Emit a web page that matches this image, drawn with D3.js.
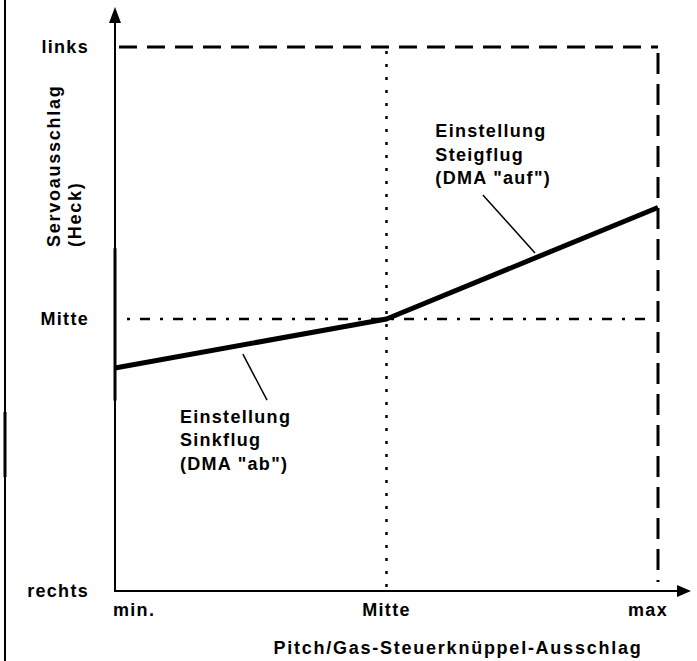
<!DOCTYPE html>
<html>
<head>
<meta charset="utf-8">
<script src="https://cdn.jsdelivr.net/npm/d3@7"></script>
<style>
  html, body { margin: 0; padding: 0; background: #fff; }
  svg { display: block; }
  text { font-family: "Liberation Sans", Arial, sans-serif; font-weight: bold; font-size: 18px; letter-spacing: 1.3px; fill: #000; }
  text.wide { letter-spacing: 1.75px; }
</style>
</head>
<body>
<svg id="chart" width="697" height="661"></svg>
<script>
// ---- data ----
const xCategories = ["min.", "Mitte", "max"];        // x positions 0,1,2
const xValues = [0, 1, 2];
const yCategories = ["rechts", "Mitte", "links"];     // y positions -1,0,1
const yValues = [-1, 0, 1];
const servoValues = [-0.18, 0, 0.41];                 // servo deflection at min, Mitte, max
const xTitle = "Pitch/Gas-Steuerknüppel-Ausschlag";
const yTitleLines = ["Servoausschlag", "(Heck)"];
const annotLabels = [
  ["Einstellung", "Steigflug", "(DMA \"auf\")"],
  ["Einstellung", "Sinkflug", "(DMA \"ab\")"]
];
const annotTextPos = [[1.18, 0.669], [0.239, -0.382]];        // in data units
const annotLeaderFrom = [[1.355, 0.456], [0.471, -0.129]];
const annotLeaderTo = [[1.547, 0.243], [0.560, -0.298]];

// ---- scales ----
const svg = d3.select("#chart");
const x = d3.scaleLinear().domain([0, 2]).range([115, 658]);
const y = d3.scaleLinear().domain([-1, 1]).range([591, 47]);

// left frame line
svg.append("line").attr("x1", 5).attr("x2", 5).attr("y1", 0).attr("y2", 661)
  .attr("stroke", "#000").attr("stroke-width", 2);
svg.append("line").attr("x1", 5).attr("x2", 5).attr("y1", 412).attr("y2", 477)
  .attr("stroke", "#000").attr("stroke-width", 3);

// reference box (links / max)
svg.append("line").attr("x1", x(0) + 2).attr("x2", x(2)).attr("y1", y(1)).attr("y2", y(1))
  .attr("stroke", "#000").attr("stroke-width", 3).attr("stroke-dasharray", "18,10")
  .attr("stroke-dashoffset", -2);
svg.append("line").attr("x1", x(2)).attr("x2", x(2)).attr("y1", y(1)).attr("y2", y(-1) - 9)
  .attr("stroke", "#000").attr("stroke-width", 3).attr("stroke-dasharray", "21,10")
  .attr("stroke-dashoffset", -6);

// Mitte guides
svg.append("line").attr("x1", x(0) + 12).attr("x2", x(2) - 3).attr("y1", y(0)).attr("y2", y(0))
  .attr("stroke", "#000").attr("stroke-width", 2.5).attr("stroke-dasharray", "3,10,10,10");
svg.append("line").attr("x1", x(1)).attr("x2", x(1)).attr("y1", y(1) + 4).attr("y2", y(-1))
  .attr("stroke", "#000").attr("stroke-width", 2.5).attr("stroke-dasharray", "3,10");

// axes
svg.append("line").attr("x1", x(0)).attr("x2", x(0)).attr("y1", y(-1)).attr("y2", 20)
  .attr("stroke", "#000").attr("stroke-width", 2);
svg.append("line").attr("x1", x(0)).attr("x2", x(0)).attr("y1", y(0.26)).attr("y2", y(-0.3))
  .attr("stroke", "#000").attr("stroke-width", 3);
svg.append("path").attr("d", `M${x(0)},7 L${x(0) - 6},23 L${x(0) + 6},23 Z`).attr("fill", "#000");
svg.append("line").attr("x1", x(0) - 1).attr("x2", 680).attr("y1", y(-1)).attr("y2", y(-1))
  .attr("stroke", "#000").attr("stroke-width", 2);
svg.append("path").attr("d", `M691,${y(-1)} L677,${y(-1) - 6} L677,${y(-1) + 6} Z`).attr("fill", "#000");

// data line
const line = d3.line().x((d, i) => x(xValues[i])).y(d => y(d));
svg.append("path").datum(servoValues).attr("d", line)
  .attr("fill", "none").attr("stroke", "#000").attr("stroke-width", 5).attr("stroke-linejoin", "round");

// y tick labels
svg.selectAll(".ylab").data(yCategories).enter().append("text")
  .attr("x", 89).attr("y", (d, i) => y(yValues[i])).attr("dy", "0.35em")
  .attr("text-anchor", "end").text(d => d);

// x tick labels
const xAnchors = ["start", "middle", "end"];
const xDx = [-2, 0, 10];
svg.selectAll(".xlab").data(xCategories).enter().append("text")
  .attr("x", (d, i) => x(xValues[i]) + xDx[i]).attr("y", 616)
  .attr("text-anchor", (d, i) => xAnchors[i]).text(d => d);

// x title
svg.append("text").attr("class", "wide").attr("x", 458).attr("y", 654).attr("text-anchor", "middle").text(xTitle);

// y title
yTitleLines.forEach((t, i) => {
  svg.append("text").attr("class", "wide").attr("transform", `translate(${60 + i * 21},247) rotate(-90)`)
    .attr("text-anchor", "start").text(t);
});

// annotations
annotLabels.forEach((lines, k) => {
  const t = svg.append("text").attr("x", x(annotTextPos[k][0])).attr("y", y(annotTextPos[k][1]));
  lines.forEach((l, j) => {
    t.append("tspan").attr("x", x(annotTextPos[k][0])).attr("dy", j === 0 ? 0 : 23.5).text(l);
  });
  svg.append("line")
    .attr("x1", x(annotLeaderFrom[k][0])).attr("y1", y(annotLeaderFrom[k][1]))
    .attr("x2", x(annotLeaderTo[k][0])).attr("y2", y(annotLeaderTo[k][1]))
    .attr("stroke", "#000").attr("stroke-width", 1.5);
});
</script>
</body>
</html>
